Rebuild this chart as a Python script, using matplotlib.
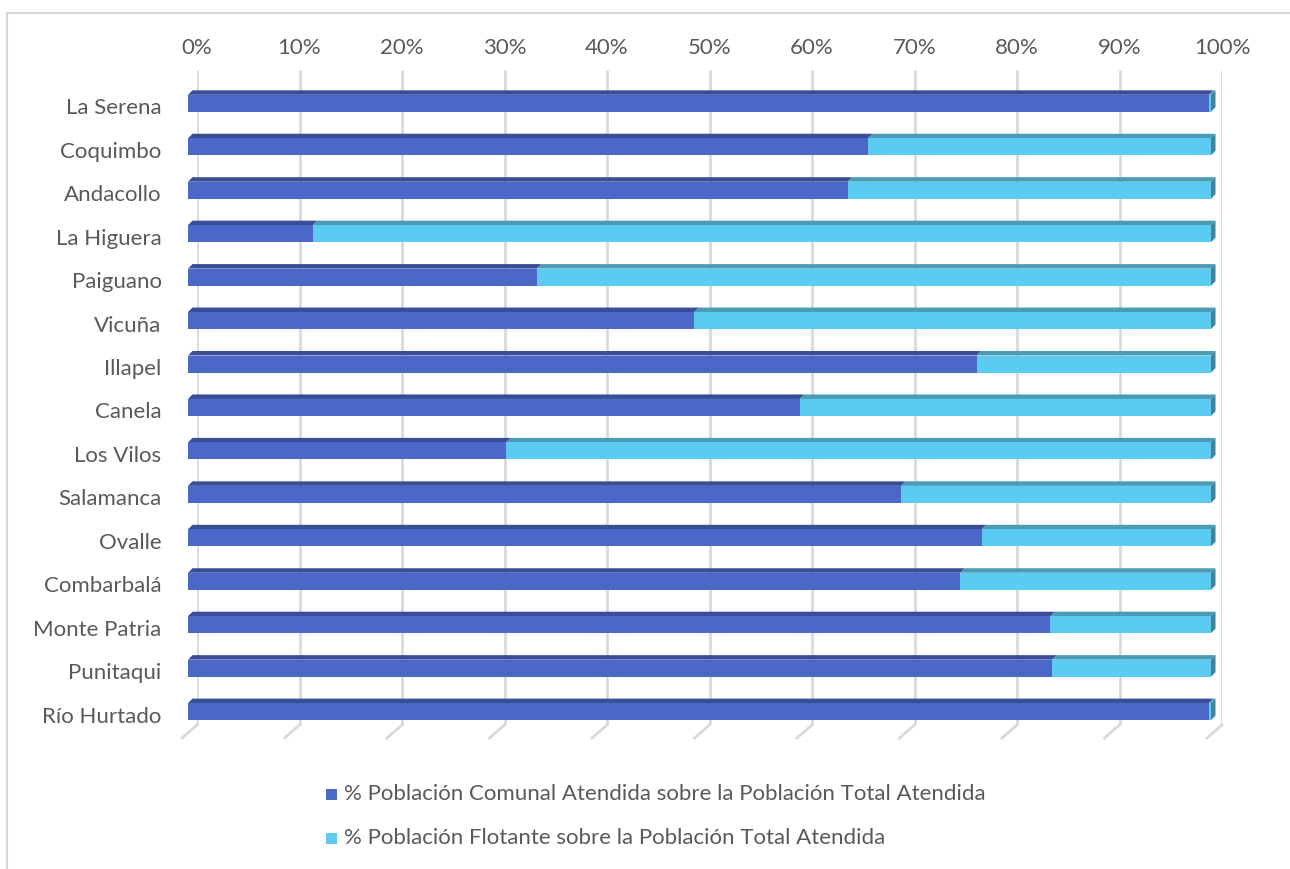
import matplotlib
matplotlib.use("Agg")
import matplotlib.pyplot as plt
import numpy as np
from matplotlib.patches import Polygon, Rectangle
from matplotlib.lines import Line2D
from matplotlib.transforms import ScaledTranslation

categories = ["La Serena", "Coquimbo", "Andacollo", "La Higuera", "Paiguano", "Vicuña",
              "Illapel", "Canela", "Los Vilos", "Salamanca", "Ovalle", "Combarbalá",
              "Monte Patria", "Punitaqui", "Río Hurtado"]
comunal = [99.8, 66.5, 64.5, 12.2, 34.1, 49.5, 77.1, 59.8, 31.1, 69.7, 77.6, 75.5, 84.3, 84.5, 99.8]
flotante = [100 - v for v in comunal]
tick_values = [0, 10, 20, 30, 40, 50, 60, 70, 80, 90, 100]
tick_labels = [f"{v}%" for v in tick_values]
series_names = ["% Población Comunal Atendida sobre la Población Total Atendida",
                "% Población Flotante sobre la Población Total Atendida"]

W, H = 1290, 869
fig = plt.figure(figsize=(W / 100, H / 100), dpi=100)
FONT = "Lato"
FS = 16
TXT = "#595959"
GRID = "#d9d9d9"

blue_front, blue_top, blue_side = "#4B67C8", "#3A4E98", "#3A4E98"
cyan_front, cyan_top, cyan_side = "#5BCBF1", "#4A9BB6", "#3F8499"

def fx(px):
    return px / W

def fy(py):
    return 1 - py / H

# back wall axes (gridlines + top tick labels)
bx0, bx1, by0, by1 = 197, 1222, 70, 725
axb = fig.add_axes([fx(bx0), fy(by1), fx(bx1 - bx0), (by1 - by0) / H])
axb.set_xlim(0, 100)
axb.set_ylim(0, 1)
axb.set_facecolor("none")
for s in axb.spines.values():
    s.set_visible(False)
axb.set_yticks([])
axb.xaxis.tick_top()
axb.set_xticks(tick_values)
axb.set_xticklabels(tick_labels, fontsize=FS, color=TXT, family=FONT)
axb.tick_params(axis="x", length=0, pad=9)
for v in tick_values:
    axb.plot([v, v], [0, 1], color=GRID, lw=2, zorder=0, solid_capstyle="butt")
    ddx = -15 / (bx1 - bx0) * 100
    ddy = -13 / (by1 - by0)
    axb.plot([v, v + ddx], [0, ddy], color=GRID, lw=2, zorder=0, clip_on=False)

# front axes (bars)
fx0, fx1 = 188, 1211
pix_top, pix_bot = 70, 735
c0, step = 103.3, 43.45
ax = fig.add_axes([fx(fx0), fy(pix_bot), fx(fx1 - fx0), (pix_bot - pix_top) / H])
ax.set_facecolor("none")
ax.set_xlim(0, 100)
ylo = (pix_top - c0) / step
yhi = (pix_bot - c0) / step
ax.set_ylim(yhi, ylo)
for s in ax.spines.values():
    s.set_visible(False)
ax.set_xticks([])
y = np.arange(len(categories))
ax.set_yticks(y)
ax.set_yticklabels(categories, fontsize=FS, color=TXT, family=FONT)
ax.tick_params(axis="y", length=0, pad=19)
shift = ScaledTranslation(0, -3 / 100, fig.dpi_scale_trans)
for lab in ax.get_yticklabels():
    lab.set_transform(lab.get_transform() + shift)

bh = 17 / step
ddx = 4.5 / (fx1 - fx0) * 100
ddy = 4.5 / step

b1 = ax.barh(y, comunal, height=bh, color=blue_front, zorder=3, label=series_names[0])
b2 = ax.barh(y, flotante, left=comunal, height=bh, color=cyan_front, zorder=3, label=series_names[1])

for i in range(len(categories)):
    top = i - bh / 2
    bot = i + bh / 2
    segs = [(0, comunal[i], blue_top, blue_side), (comunal[i], comunal[i] + flotante[i], cyan_top, cyan_side)]
    for a, b, ct, cs in segs:
        if b - a <= 0:
            continue
        ax.add_patch(Polygon([(a, top), (b, top), (b + ddx, top - ddy), (a + ddx, top - ddy)],
                             closed=True, facecolor=ct, edgecolor="none", zorder=2, clip_on=False))
    end = comunal[i] + flotante[i]
    ax.add_patch(Polygon([(end, top), (end + ddx, top - ddy), (end + ddx, bot - ddy), (end, bot)],
                         closed=True, facecolor=cyan_side, edgecolor="none", zorder=2, clip_on=False))

# legend
for k, (name, col) in enumerate(zip(series_names, [blue_front, cyan_front])):
    ly = 794 + 44 * k
    fig.patches.append(Rectangle((fx(326), fy(ly + 6)), 11 / W, 11 / H, transform=fig.transFigure,
                                 facecolor=col, edgecolor="none"))
    fig.text(fx(344), fy(ly), name, fontsize=FS, color=TXT, family=FONT, va="center", ha="left")

# chart border
fig.add_artist(Line2D([fx(7), fx(7)], [fy(13), fy(869)], color=GRID, lw=1.5))
fig.add_artist(Line2D([fx(7), fx(1290)], [fy(13), fy(13)], color=GRID, lw=1.5))

fig.savefig("out.png", dpi=100)
